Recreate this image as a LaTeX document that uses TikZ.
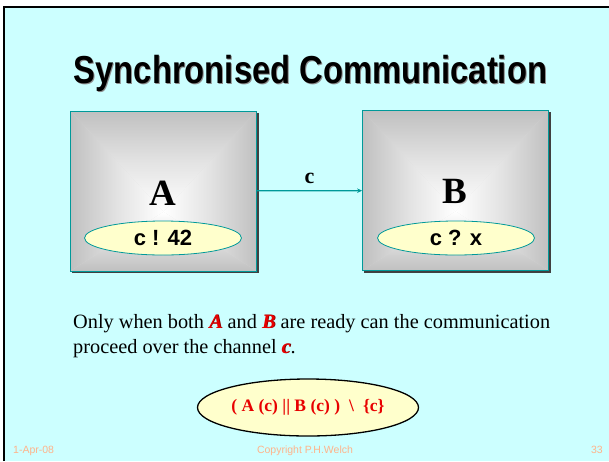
\documentclass[tikz,border=0pt]{standalone}
\usepackage{fontspec}
\setmainfont{Liberation Serif}
\newfontfamily\arialfont{Liberation Sans}
\newfontfamily\titlefont{Liberation Sans}[FakeStretch=0.84]
\usetikzlibrary{shapes.geometric,arrows.meta,calc,backgrounds}

\definecolor{slidecyan}{HTML}{CCFFFF}
\definecolor{chanteal}{HTML}{009999}
\definecolor{boxgray}{HTML}{C0C0C0}
\definecolor{ovalyellow}{HTML}{FFFFCC}
\definecolor{procred}{HTML}{E80000}
\definecolor{shadered}{HTML}{7A0000}
\definecolor{footorange}{HTML}{FFB38A}

\newcommand{\redshadow}[1]{\rlap{\kern0.9pt\raisebox{-0.9pt}{\textcolor{shadered}{#1}}}\textcolor{procred}{#1}}

\tikzset{
  procbox/.style={draw=chanteal, line width=0.8pt, fill=boxgray!55, minimum width=186pt, minimum height=160pt, inner sep=0pt,
    path picture={
      \coordinate (nw) at (path picture bounding box.north west);
      \coordinate (ne) at (path picture bounding box.north east);
      \coordinate (sw) at (path picture bounding box.south west);
      \coordinate (se) at (path picture bounding box.south east);
      \coordinate (mid) at ($(path picture bounding box.south)!0.37!(path picture bounding box.north)$);
      \shade[top color=boxgray, bottom color=white, middle color=boxgray!45] (nw) -- (ne) -- (mid) -- cycle;
      \shade[top color=white, bottom color=boxgray] (sw) -- (se) -- (mid) -- cycle;
      \shade[left color=boxgray, right color=white, middle color=boxgray!45] (nw) -- (sw) -- (mid) -- cycle;
      \shade[left color=white, right color=boxgray, middle color=boxgray!45] (ne) -- (se) -- (mid) -- cycle;
    }},
  oval/.style={ellipse, draw=chanteal, line width=0.8pt, fill=ovalyellow, minimum width=157pt, minimum height=34pt,
    inner sep=0pt, font=\arialfont\bfseries\fontsize{22}{22}\selectfont},
  proclabel/.style={anchor=base, inner sep=0pt, font=\bfseries\fontsize{37}{37}\selectfont},
  chan/.style={draw=chanteal, line width=1.3pt, -{Stealth[length=5pt,width=4.5pt]}},
  formula/.style={ellipse, draw=black, line width=1.3pt, fill=ovalyellow, minimum width=221pt, minimum height=57pt,
    inner sep=0pt, text=procred, font=\bfseries\fontsize{17.5}{18}\selectfont},
  note/.style={anchor=base west, inner sep=0pt, font=\fontsize{20.3}{25}\selectfont},
  footer/.style={anchor=base, inner sep=0pt, text=footorange, font=\arialfont\fontsize{10.5}{11}\selectfont},
  titletext/.style={anchor=base, inner sep=0pt, font=\titlefont\bfseries\fontsize{39}{40}\selectfont}
}

\begin{document}
\begin{tikzpicture}[x=1pt,y=1pt]
\useasboundingbox (0,0) rectangle (609,-461);
\begin{scope}[on background layer]
  \fill[white] (0,0) rectangle (609,-461);
  \fill[slidecyan] (4,-6.8) rectangle (609,-461);
  \draw[line width=2.2pt] (4,-461) -- (4,-6.8) -- (609,-6.8);
\end{scope}

\node[titletext, text=black!45] at (311.5,-84.2) {Synchronised Communication};
\node[titletext] (title) at (310.5,-83) {Synchronised Communication};

\node[procbox] (A) at (163.5,-191) {};
\node[procbox] (B) at (455.5,-190.5) {};
\begin{scope}[on background layer]
  \fill[black!75] ($(A.south west)+(2,-2)$) rectangle ($(A.north east)+(2,-2)$);
  \fill[black!75] ($(B.south west)+(2,-2)$) rectangle ($(B.north east)+(2,-2)$);
\end{scope}

\node[proclabel] (Aname) at (163,-205) {A};
\node[proclabel] (Bname) at (455,-203) {B};
\node[oval] (Aout) at (163,-238) {c ! 42};
\node[oval] (Bin) at (456,-238) {c ? x};

\draw[chan] (A) -- node[above=3pt, font=\bfseries\fontsize{22}{22}\selectfont] (clabel) {c} (B);

\node[note] (line1) at (73,-328) {Only when both \redshadow{\textbf{\textit{A}}} and \redshadow{\textbf{\textit{B}}} are ready can the communication};
\node[note] (line2) at (73,-353) {proceed over the channel \redshadow{\textbf{\textit{c}}}.};

\node[formula] (spec) at (308,-407.5) {( A (c) \textbar\textbar\ B (c) )\hspace{9pt}\textbackslash\hspace{9pt}\{c\}};

\node[footer, anchor=base west] (date) at (13,-453) {1-Apr-08};
\node[footer] (copy) at (305,-453) {Copyright P.H.Welch};
\node[footer, anchor=base east] (page) at (603,-453) {33};
\end{tikzpicture}
\end{document}
